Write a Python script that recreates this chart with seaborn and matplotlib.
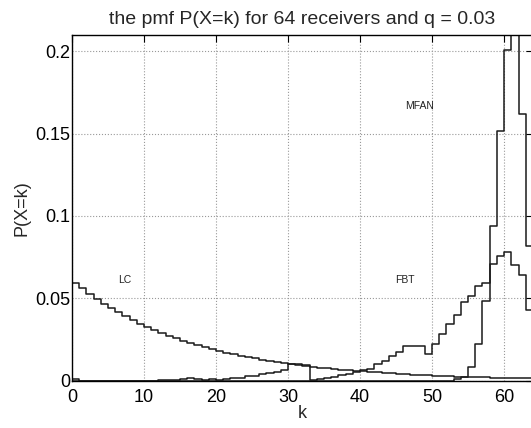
import numpy as np
import pandas as pd
import matplotlib
matplotlib.use("Agg")
import matplotlib.pyplot as plt
import seaborn as sns

# ---- data, index = k ----
lc = [0.0595, 0.0560, 0.0527, 0.0496, 0.0467, 0.0440, 0.0414, 0.0390, 0.0367, 0.0346,
      0.0326, 0.0307, 0.0289, 0.0272, 0.0257, 0.0242, 0.0228, 0.0215, 0.0203, 0.0191,
      0.0180, 0.0170, 0.0160, 0.0151, 0.0143, 0.0135, 0.0127, 0.0120, 0.0113, 0.0107,
      0.0101, 0.0095, 0.0090, 0.0085, 0.0080, 0.0076, 0.0072, 0.0068, 0.0064, 0.0061,
      0.0058, 0.0054, 0.0051, 0.0048, 0.0045, 0.0042, 0.0040, 0.0037, 0.0035, 0.0033,
      0.0031, 0.0029, 0.0027, 0.0025, 0.0024, 0.0022, 0.0021, 0.0020, 0.0019, 0.0018,
      0.0017, 0.0016, 0.0015, 0.0014, 0.0013]

fbt = [0.0008, 0.0001, 0.0001, 0.0001, 0.0001, 0.0001, 0.0001, 0.0001, 0.0001, 0.0001,
       0.0001, 0.0001, 0.0003, 0.0005, 0.0006, 0.0008, 0.0016, 0.0008, 0.0007, 0.0008,
       0.0007, 0.0009, 0.0014, 0.0019, 0.0030, 0.0026, 0.0038, 0.0045, 0.0055, 0.0066,
       0.0104, 0.0102, 0.0098, 0.0006, 0.0010, 0.0016, 0.0024, 0.0032, 0.0042, 0.0050,
       0.0066, 0.0071, 0.0100, 0.0122, 0.0150, 0.0176, 0.0212, 0.0210, 0.0208, 0.0164,
       0.0225, 0.0286, 0.0346, 0.0399, 0.0479, 0.0516, 0.0573, 0.0591, 0.0710, 0.0755,
       0.0781, 0.0702, 0.0643, 0.0429, 0.0200]

mfan = [0.0] * 53 + [0.0010, 0.0020, 0.0085, 0.0223, 0.0485, 0.0939, 0.1517,
                     0.2007, 0.2250, 0.1617, 0.0817, 0.0300]

labels = ["LC", "FBT", "MFAN"]
label_pos_k = [7.3, 46.2, 48.3]
label_pos_p = [0.061, 0.061, 0.167]

x_ticks = [0, 10, 20, 30, 40, 50, 60]
y_ticks = [0, 0.05, 0.1, 0.15, 0.2]
y_ticklabels = ["0", "0.05", "0.1", "0.15", "0.2"]

title = "the pmf P(X=k) for 64 receivers and q = 0.03"

# ---- style ----
sns.set_style("white")
plt.rcParams["font.family"] = ["Liberation Sans", "DejaVu Sans"]

fig = plt.figure(figsize=(5.31, 4.28), dpi=100)
ax = fig.add_axes([0.1356, 0.1105, 0.868, 0.8085])

for series in (lc, fbt, mfan):
    df = pd.DataFrame({"k": np.arange(len(series)), "p": series})
    sns.lineplot(data=df, x="k", y="p", ax=ax, drawstyle="steps-post",
                 color="#1a1a1a", linewidth=1.1, errorbar=None)

for name, kx, py in zip(labels, label_pos_k, label_pos_p):
    ax.text(kx, py, name, ha="center", va="center", fontsize=7.5, color="#222222")

ax.set_xlim(0, 64)
ax.set_ylim(0, 0.21)
ax.set_xticks(x_ticks)
ax.set_yticks(y_ticks)
ax.set_yticklabels(y_ticklabels)
ax.grid(True, linestyle=":", color="#999999", linewidth=0.8)
ax.tick_params(direction="in", top=True, right=True, length=5, width=0.8,
               labelsize=13, colors="black")
ax.tick_params(axis="x", pad=6)
ax.tick_params(axis="y", pad=1.5)
for s in ax.spines.values():
    s.set_visible(True)
    s.set_color("black")
    s.set_linewidth(1.0)

ax.set_xlabel("k", fontsize=13, labelpad=-1)
ax.set_ylabel("P(X=k)", fontsize=13, labelpad=3)
ax.set_title(title, fontsize=14, pad=8)

fig.savefig("out.png", dpi=100)
